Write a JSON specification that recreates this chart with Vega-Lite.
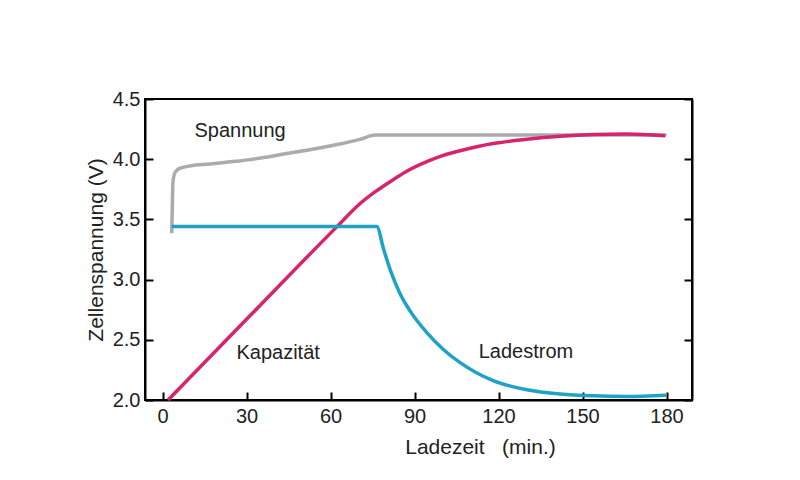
{
  "$schema": "https://vega.github.io/schema/vega-lite/v6.json",
  "autosize": {"type": "none"},
  "width": 547,
  "height": 301,
  "padding": {"left": 145, "top": 99, "right": 108, "bottom": 80},
  "background": "white",
  "config": {
    "view": {"stroke": "black", "strokeWidth": 2},
    "axis": {
      "labelFont": "Liberation Sans",
      "labelFontSize": 20,
      "labelColor": "#222222",
      "titleFont": "Liberation Sans",
      "titleFontSize": 21,
      "titleFontWeight": "normal",
      "titleColor": "#222222",
      "domainColor": "black",
      "domainWidth": 2,
      "tickColor": "black",
      "tickWidth": 2,
      "tickSize": -8,
      "grid": false
    }
  },
  "datasets": {
    "curves": [
      {"series": "Spannung", "x": 3.3, "y": 3.385},
      {"series": "Spannung", "x": 3.5, "y": 3.6},
      {"series": "Spannung", "x": 3.7, "y": 3.8},
      {"series": "Spannung", "x": 4.3, "y": 3.88},
      {"series": "Spannung", "x": 5.5, "y": 3.915},
      {"series": "Spannung", "x": 7, "y": 3.93},
      {"series": "Spannung", "x": 10, "y": 3.945},
      {"series": "Spannung", "x": 17, "y": 3.96},
      {"series": "Spannung", "x": 25, "y": 3.98},
      {"series": "Spannung", "x": 35, "y": 4.01},
      {"series": "Spannung", "x": 45, "y": 4.05},
      {"series": "Spannung", "x": 53, "y": 4.08},
      {"series": "Spannung", "x": 62, "y": 4.12},
      {"series": "Spannung", "x": 70.5, "y": 4.165},
      {"series": "Spannung", "x": 76, "y": 4.2},
      {"series": "Spannung", "x": 100, "y": 4.2},
      {"series": "Spannung", "x": 140, "y": 4.2},
      {"series": "Spannung", "x": 180, "y": 4.2},
      {"series": "Kapazität", "x": 2, "y": 2.0},
      {"series": "Kapazität", "x": 30, "y": 2.67},
      {"series": "Kapazität", "x": 62.3, "y": 3.44},
      {"series": "Kapazität", "x": 70, "y": 3.62},
      {"series": "Kapazität", "x": 76, "y": 3.73},
      {"series": "Kapazität", "x": 82.4, "y": 3.83},
      {"series": "Kapazität", "x": 88, "y": 3.91},
      {"series": "Kapazität", "x": 94.4, "y": 3.98},
      {"series": "Kapazität", "x": 100, "y": 4.03},
      {"series": "Kapazität", "x": 106.3, "y": 4.07},
      {"series": "Kapazität", "x": 118.1, "y": 4.13},
      {"series": "Kapazität", "x": 130.1, "y": 4.165},
      {"series": "Kapazität", "x": 142, "y": 4.19},
      {"series": "Kapazität", "x": 153.9, "y": 4.205},
      {"series": "Kapazität", "x": 165.8, "y": 4.21},
      {"series": "Kapazität", "x": 179.5, "y": 4.195},
      {"series": "Ladestrom", "x": 3.3, "y": 3.44},
      {"series": "Ladestrom", "x": 76.5, "y": 3.44},
      {"series": "Ladestrom", "x": 79, "y": 3.25},
      {"series": "Ladestrom", "x": 81.5, "y": 3.07},
      {"series": "Ladestrom", "x": 84.5, "y": 2.9},
      {"series": "Ladestrom", "x": 88.4, "y": 2.74},
      {"series": "Ladestrom", "x": 94.4, "y": 2.56},
      {"series": "Ladestrom", "x": 100.3, "y": 2.42},
      {"series": "Ladestrom", "x": 106.3, "y": 2.31},
      {"series": "Ladestrom", "x": 118.1, "y": 2.16},
      {"series": "Ladestrom", "x": 130.1, "y": 2.085},
      {"series": "Ladestrom", "x": 142, "y": 2.05},
      {"series": "Ladestrom", "x": 153.9, "y": 2.035},
      {"series": "Ladestrom", "x": 165.8, "y": 2.03},
      {"series": "Ladestrom", "x": 179.8, "y": 2.04}
    ],
    "labels": [
      {"label": "Spannung", "x": 27.7, "y": 4.234},
      {"label": "Kapazität", "x": 41.3, "y": 2.388},
      {"label": "Ladestrom", "x": 129.8, "y": 2.4}
    ]
  },
  "resolve": {"axis": {"y": "independent"}},
  "layer": [
    {
      "data": {"name": "curves"},
      "mark": {"type": "line", "interpolate": "monotone", "strokeWidth": 3.5, "strokeCap": "butt"},
      "encoding": {
        "x": {
          "field": "x", "type": "quantitative",
          "scale": {"domain": [-6.25, 189.1], "nice": false, "zero": false},
          "axis": {
            "values": [0, 30, 60, 90, 120, 150, 180],
            "title": "Ladezeit\u00a0\u00a0\u00a0(min.)",
            "labelPadding": 14,
            "titlePadding": 10,
            "titleX": 335,
            "titleAlign": "center"
          }
        },
        "y": {
          "field": "y", "type": "quantitative",
          "scale": {"domain": [2, 4.5], "nice": false, "zero": false},
          "axis": {
            "orient": "left",
            "values": [2, 2.5, 3, 3.5, 4, 4.5],
            "format": ".1f",
            "title": "Zellenspannung (V)",
            "labelPadding": 13,
            "titlePadding": 6
          }
        },
        "color": {
          "field": "series", "type": "nominal",
          "scale": {"domain": ["Kapazität", "Ladestrom", "Spannung"], "range": ["#d6246e", "#1ea2c6", "#ababab"]},
          "legend": null
        },
        "order": {"field": "series", "sort": "descending"}
      }
    },
    {
      "data": {"name": "labels"},
      "mark": {"type": "text", "font": "Liberation Sans", "fontSize": 20, "color": "#222222", "align": "center", "baseline": "middle"},
      "encoding": {
        "x": {"field": "x", "type": "quantitative"},
        "y": {
          "field": "y", "type": "quantitative",
          "axis": {
            "orient": "right",
            "values": [2, 2.5, 3, 3.5, 4, 4.5],
            "labels": false,
            "title": null
          }
        },
        "text": {"field": "label"}
      }
    }
  ]
}
